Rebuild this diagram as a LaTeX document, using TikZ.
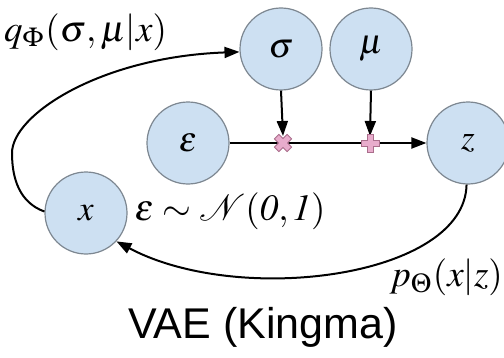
\documentclass[tikz,border=0pt]{standalone}
\usepackage{mathptmx}
\usepackage{graphicx}
\usepackage[no-math]{fontspec}
\newfontfamily\arialf{Liberation Sans}
\usetikzlibrary{arrows.meta}
\definecolor{nodefill}{RGB}{205,224,242}
\definecolor{nodeline}{RGB}{125,135,145}
\definecolor{markfill}{RGB}{232,172,204}
\definecolor{markline}{RGB}{170,110,140}
\newcommand{\mysc}[2]{\scalebox{#1}{$#2$}}
\tikzset{
  var/.style={circle,draw=nodeline,line width=1.2pt,fill=nodefill,minimum size=82pt,inner sep=0pt,font=\fontsize{10}{12}\selectfont},
  conn/.style={line width=2pt,-{Triangle[length=15pt,width=11pt]}},
  plain/.style={line width=2pt},
  lbl/.style={inner sep=0pt,font=\fontsize{10}{12}\selectfont},
  markshape/.style={fill=markfill,draw=markline,line width=0.8pt}
}
\begin{document}
\begin{tikzpicture}[x=1pt,y=1pt]
\useasboundingbox (0,0) rectangle (504,357);
\node[var] (sigma) at (281,308) {\mysc{3.5}{\sigma}};
\node[var] (mu) at (371,308) {\mysc{3.5}{\mu}};
\node[var] (eps) at (188,214) {\mysc{3.5}{\varepsilon}};
\node[var] (z) at (468,214) {\mysc{3.5}{z}};
\node[var] (x) at (86,144) {\mysc{3.5}{x}};
\coordinate (mult) at (283,214);
\coordinate (plus) at (370,214);
\draw[plain] (eps.east) -- (mult);
\draw[plain] (mult) -- (plus);
\draw[conn] (plus) -- (z.west);
\draw[conn] (sigma.south) -- ([yshift=7pt]mult);
\draw[conn] (mu.south) -- ([yshift=7pt]plus);
\draw[markshape,rotate around={45:(mult)}] ([shift={(-3.2,-9)}]mult) -- ++(0,5.8) -- ++(-5.8,0) -- ++(0,6.4) -- ++(5.8,0) -- ++(0,5.8) -- ++(6.4,0) -- ++(0,-5.8) -- ++(5.8,0) -- ++(0,-6.4) -- ++(-5.8,0) -- ++(0,-5.8) -- cycle;
\draw[markshape] ([shift={(-3,-9)}]plus) -- ++(0,6) -- ++(-6,0) -- ++(0,6) -- ++(6,0) -- ++(0,6) -- ++(6,0) -- ++(0,-6) -- ++(6,0) -- ++(0,-6) -- ++(-6,0) -- ++(0,-6) -- cycle;
\coordinate (turn) at (12,204);
\draw[plain] (x.178) to[out=160,in=-90] (turn);
\draw[conn] (turn) .. controls (12,242) and (100,300) .. (sigma.184);
\draw[conn] (z.-92) .. controls (465,80) and (240,50) .. (x.-43);
\node[lbl,anchor=west] (q) at (4,325) {\mysc{3.7}{q_\Phi(\sigma,\mu|x)}};
\node[lbl] (n) at (230,146) {\mysc{3.7}{\varepsilon\sim\mathcal{N}(\mathit{0,1})}};
\node[lbl,anchor=east] (p) at (503,80) {\mysc{3.7}{p_\Theta(x|z)}};
\node[inner sep=0pt,font=\arialf\fontsize{43}{43}\selectfont] (t) at (263,30) {VAE (Kingma)};
\end{tikzpicture}
\end{document}
